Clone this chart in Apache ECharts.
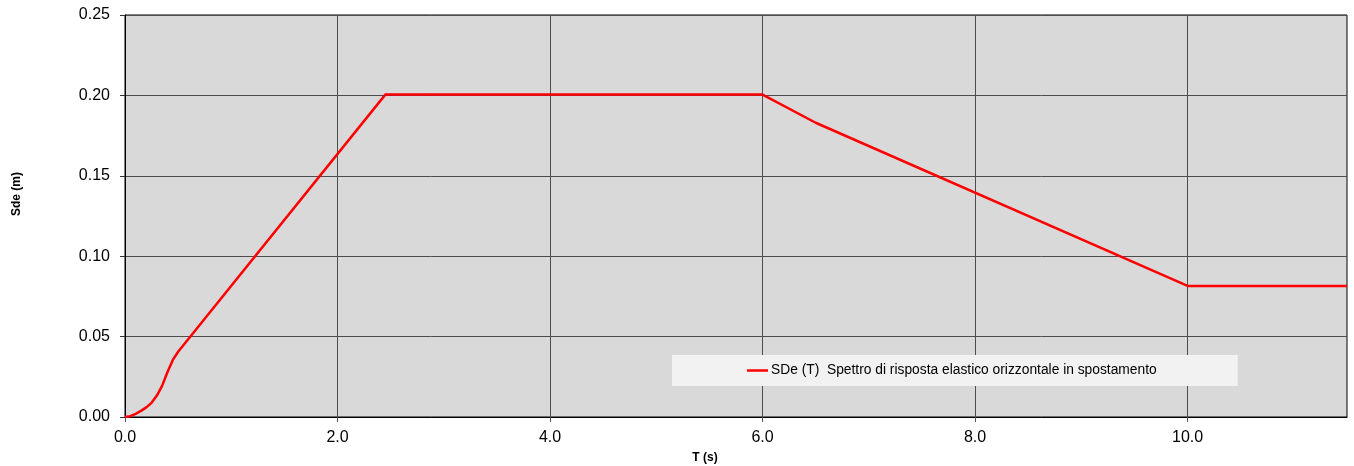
<!DOCTYPE html>
<html>
<head>
<meta charset="utf-8">
<script src="https://cdn.jsdelivr.net/npm/echarts@6/dist/echarts.min.js"></script>
<style>
  html, body { margin: 0; padding: 0; background: #fff; }
  #chart { width: 1354px; height: 466px; }
</style>
</head>
<body>
<div id="chart"></div>
<script>
// periodo T (s) e spostamento Sde (m)
var periods = [0, 0.05, 0.1, 0.15, 0.2, 0.25, 0.3, 0.35, 0.4, 0.45, 0.5, 2.45, 6.0, 6.5, 10.0, 11.5];
var sdeValues = [0, 0.0005, 0.002, 0.0038, 0.006, 0.0088, 0.0133, 0.0195, 0.028, 0.0355, 0.0406, 0.2005, 0.2005, 0.183, 0.0815, 0.0815];
var xTicks = [0, 2, 4, 6, 8, 10];
var seriesName = 'SDe (T)  Spettro di risposta elastico orizzontale in spostamento';

var data = [];
for (var i = 0; i < periods.length; i++) {
  data.push([periods[i], sdeValues[i]]);
}

var chart = echarts.init(document.getElementById('chart'));
chart.setOption({
  animation: false,
  textStyle: { fontFamily: 'Liberation Sans, Arial, sans-serif' },
  grid: {
    left: 125, right: 7, top: 15, bottom: 49,
    outerBoundsMode: 'none',
    containLabel: false,
    show: true,
    backgroundColor: '#d9d9d9',
    borderColor: '#000',
    borderWidth: 1
  },
  legend: {
    left: 672, top: 355,
    backgroundColor: '#f2f2f2',
    padding: [8, 81, 8, 75],
    icon: 'rect',
    itemWidth: 21, itemHeight: 2.5, itemGap: 0,
    itemStyle: { color: '#ff0000' },
    textStyle: { fontSize: 13.8, color: '#000', padding: [0, 0, 0, -2], lineHeight: 15 },
    data: [seriesName]
  },
  xAxis: {
    type: 'value',
    min: 0, max: 11.5, interval: 2,
    name: 'T (s)',
    nameLocation: 'middle',
    nameGap: 35,
    nameTextStyle: { fontSize: 12, fontWeight: 'bold', color: '#000', padding: [0, 62, 0, 0] },
    axisLine: { show: true, lineStyle: { color: '#000', width: 1 } },
    axisTick: { show: true, length: 5, lineStyle: { color: '#555' }, customValues: xTicks },
    axisLabel: {
      fontSize: 16, color: '#000', margin: 13,
      customValues: xTicks,
      formatter: function (v) { return v.toFixed(1); }
    },
    splitLine: { show: true, lineStyle: { color: '#4d4d4d', width: 1 } }
  },
  yAxis: {
    type: 'value',
    min: 0, max: 0.25, interval: 0.05,
    name: 'Sde (m)',
    nameLocation: 'middle',
    nameRotate: 90,
    nameGap: 102,
    nameTextStyle: { fontSize: 12, fontWeight: 'bold', color: '#000', padding: [0, 0, 0, 44] },
    axisLine: { show: true, lineStyle: { color: '#000', width: 1 } },
    axisTick: { show: true, length: 5, lineStyle: { color: '#333' } },
    axisLabel: {
      fontSize: 16, color: '#000', margin: 15,
      formatter: function (v) { return v.toFixed(2); }
    },
    splitLine: { show: true, lineStyle: { color: '#4d4d4d', width: 1 } }
  },
  series: [{
    name: seriesName,
    type: 'line',
    data: data,
    symbol: 'none',
    smooth: false,
    lineStyle: { color: '#ff0000', width: 2.5 },
    itemStyle: { color: '#ff0000' }
  }]
});
</script>
</body>
</html>
